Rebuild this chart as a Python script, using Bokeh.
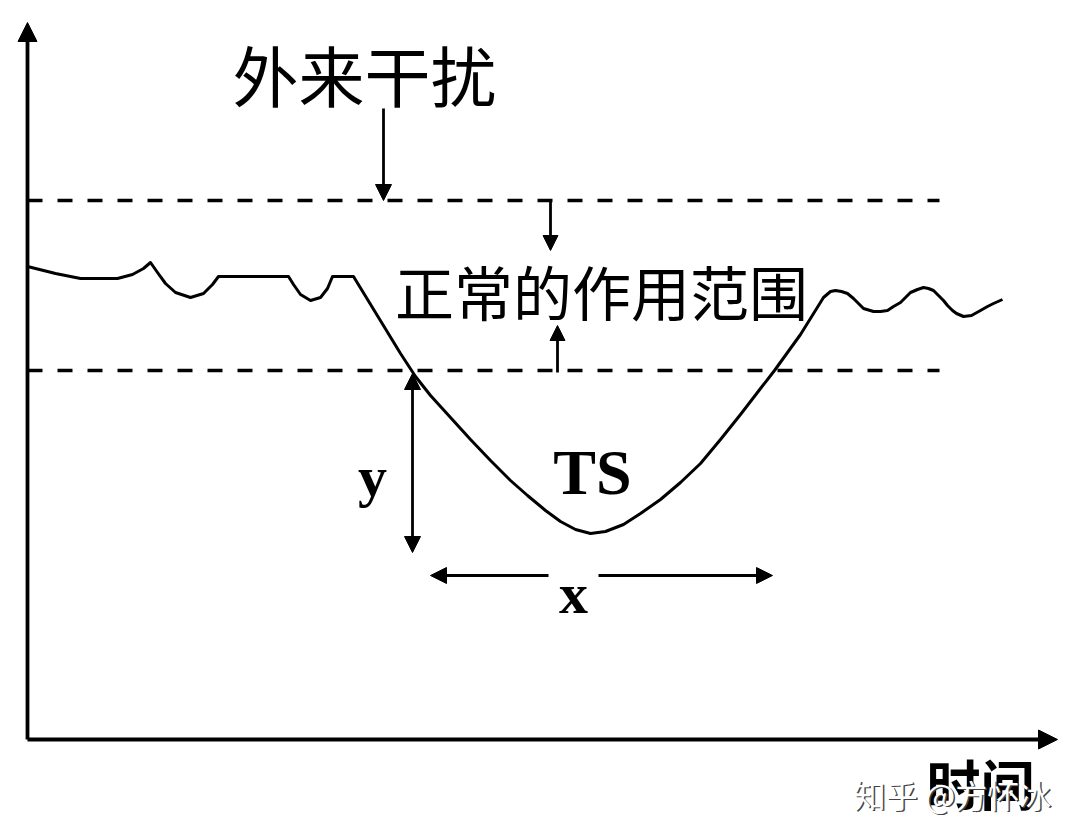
from bokeh.plotting import figure
from bokeh.models import Range1d, Arrow, NormalHead, ColumnDataSource
from bokeh.core.properties import value
from bokeh.embed import file_html
from bokeh.resources import INLINE

# ---- data (arbitrary units: time along x, ecosystem function level along y) ----
time = [0, 28, 53, 90, 105, 116, 123, 130, 138, 148, 163, 176, 185, 191,
        261, 266, 273, 283, 293, 300, 305, 326, 373, 388, 403, 413, 423, 443,
        463, 483, 500, 518, 533, 548, 563, 578, 596, 613, 633, 653, 673, 693,
        713, 733, 747, 773, 796, 803, 808, 814, 820, 826, 830, 836, 846, 853,
        860, 866, 873, 878, 883, 890, 896, 901, 906, 911, 916, 920, 925, 929,
        936, 944, 953, 960, 966, 975]
level = [473, 466, 461, 461, 465, 471, 477, 467, 456, 447, 442, 446, 455, 463,
         463, 455, 445, 439, 442, 451, 463, 463, 386, 363, 344, 333, 322, 300,
         279, 259, 244, 229, 218, 210, 206, 208, 215, 226, 240, 257, 276, 300,
         325, 351, 369, 405, 442, 448, 449, 448, 446, 441, 437, 431, 428, 428,
         429, 433, 437, 442, 447, 450, 452, 451, 449, 444, 439, 434, 429, 426,
         423, 424, 429, 433, 436, 440]

upper_limit = 539      # upper bound of the normal range
lower_limit = 369      # lower bound of the normal range
range_end = 912        # time where the dashed bounds stop
axis_time_max = 1030
axis_level_max = 717

disturb_time = 356     # time of the outside disturbance
drop_time = 385        # time the curve leaves the normal range
recover_time = 745     # time the curve returns
min_level = 187        # lowest level reached (y deviation)
x_level = 164          # level where the x (duration) arrow is drawn

labels_cn = ["外来干扰", "正常的作用范围", "时间"]
labels_en = ["TS", "y", "x"]
watermark = "知乎 @方怀冰"

CJK = "Noto Sans CJK SC"
SERIF = "Liberation Serif"

p = figure(width=1063, height=824,
           x_range=Range1d(-27, 1036), y_range=Range1d(-85, 739),
           output_backend="svg", toolbar_location=None,
           x_axis_location=None, y_axis_location=None, min_border=0)
p.grid.visible = False
p.outline_line_color = None
p.background_fill_color = "white"

# axes with arrows
p.add_layout(Arrow(x_start=0, y_start=0, x_end=0, y_end=axis_level_max,
                   line_width=3.8, line_color="black",
                   end=NormalHead(size=19, fill_color="black", line_color="black")))
p.add_layout(Arrow(x_start=0, y_start=0, x_end=axis_time_max, y_end=0,
                   line_width=3.8, line_color="black",
                   end=NormalHead(size=19, fill_color="black", line_color="black")))

# dashed bounds of the normal range
p.line([0, range_end], [upper_limit, upper_limit], line_color="black",
       line_width=3.5, line_dash="15 15")
p.line([0, range_end], [lower_limit, lower_limit], line_color="black",
       line_width=3.5, line_dash="15 15")

# curve
src = ColumnDataSource(dict(t=time, v=level))
p.line("t", "v", source=src, line_color="black", line_width=3, line_join="round")

def arrow(x0, y0, x1, y1, size=15, both=False, lw=2.8):
    p.add_layout(Arrow(x_start=x0, y_start=y0, x_end=x1, y_end=y1,
                       line_width=lw, line_color="black",
                       end=NormalHead(size=size, fill_color="black", line_color="black"),
                       start=NormalHead(size=size, fill_color="black", line_color="black") if both else None))

# disturbance arrow
arrow(disturb_time, 631, disturb_time, upper_limit, size=16)
# normal range arrows
arrow(523, upper_limit, 523, 489, size=15)
arrow(530, lower_limit - 2, 530, 414, size=15)
# y deviation arrow
arrow(drop_time, lower_limit - 3, drop_time, min_level, size=16, both=True)
# x duration arrows
arrow(521, x_level, 403, x_level, size=16)
arrow(571, x_level, recover_time, x_level, size=16)

# Chinese labels
p.text([337], [667], text=[labels_cn[0]], text_font=value(CJK), text_font_size="66px",
       text_align="center", text_baseline="middle", text_color="black")
p.text([574], [449], text=[labels_cn[1]], text_font=value(CJK), text_font_size="59px",
       text_align="center", text_baseline="middle", text_color="black")
p.text([953], [-43], text=[labels_cn[2]], text_font=value(CJK), text_font_size="54px",
       text_font_style="bold", text_align="center", text_baseline="middle",
       text_color="black")

# Latin labels
p.text([565], [267], text=[labels_en[0]], text_font=value(SERIF), text_font_size="64px",
       text_font_style="bold", text_align="center", text_baseline="alphabetic",
       text_color="black")
p.text([345], [263], text=[labels_en[1]], text_font=value(SERIF), text_font_size="58px",
       text_font_style="bold", text_align="center", text_baseline="alphabetic",
       text_color="black")
p.text([546], [146], text=[labels_en[2]], text_font=value(SERIF), text_font_size="58px",
       text_font_style="bold", text_align="center", text_baseline="alphabetic",
       text_color="black")

# watermark (white with shadow)
p.text([925], [-54], text=[watermark], text_font=value(CJK), text_font_size="32px",
       text_align="center", text_baseline="middle", text_color="#444444",
       x_offset=1.5, y_offset=1.5)
p.text([925], [-54], text=[watermark], text_font=value(CJK), text_font_size="32px",
       text_align="center", text_baseline="middle", text_color="white")

open("out.html", "w").write(file_html(p, INLINE))
